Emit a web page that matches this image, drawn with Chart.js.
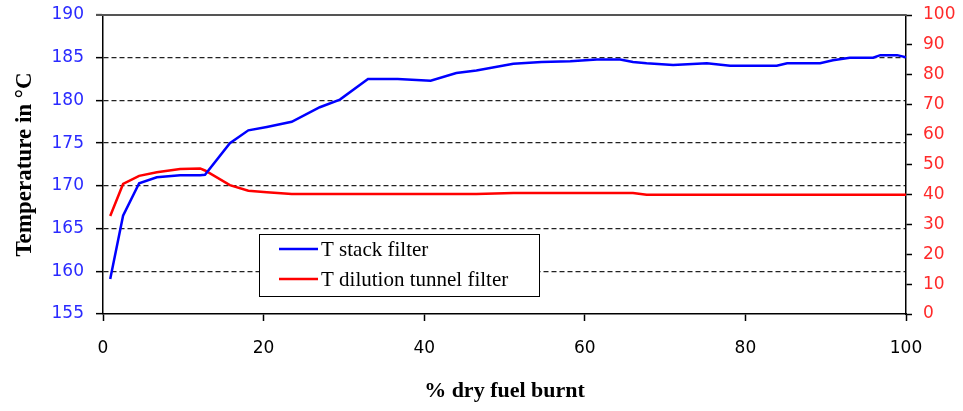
<!DOCTYPE html>
<html>
<head>
<meta charset="utf-8">
<script src="https://cdn.jsdelivr.net/npm/chart.js@4"></script>
<style>
html,body{margin:0;padding:0;background:#fff;}
#wrap{width:963px;height:411px;position:relative;}
</style>
</head>
<body>
<div id="wrap"><canvas id="c"></canvas></div>
<script>
// % dry fuel burnt (x positions of samples)
const fuelBurnt = [0.9, 2.5, 4.5, 6.7, 9.6, 12.1, 12.7, 15.8, 18.1, 20.4, 23.5, 27.0, 29.5, 33.0, 36.7, 40.8, 44.0, 46.5, 51.1, 54.6, 58.2, 61.5, 64.4, 66.0, 67.7, 71.0, 75.2, 78.1, 83.9, 85.2, 89.3, 90.9, 93.0, 95.9, 96.8, 98.9, 100];
// T stack filter (left axis, °C)
const stackFilter = [159.1, 166.5, 170.3, 171.0, 171.25, 171.25, 171.3, 175.0, 176.5, 176.9, 177.5, 179.2, 180.1, 182.5, 182.5, 182.3, 183.2, 183.5, 184.3, 184.5, 184.6, 184.8, 184.8, 184.5, 184.35, 184.15, 184.35, 184.05, 184.05, 184.35, 184.35, 184.7, 185.0, 185.0, 185.3, 185.3, 185.05];
// T dilution tunnel filter (right axis)
const tunnelFilter = [32.8, 43.5, 46.2, 47.4, 48.5, 48.7, 48.0, 43.1, 41.2, 40.7, 40.1, 40.1, 40.1, 40.1, 40.1, 40.1, 40.1, 40.1, 40.5, 40.5, 40.5, 40.5, 40.5, 40.5, 39.9, 39.9, 39.9, 39.9, 39.9, 39.9, 39.9, 39.9, 39.9, 39.9, 39.9, 39.9, 39.9];
const seriesLabels = ["T stack filter", "T dilution tunnel filter"];
const seriesColors = ["#0000ff", "#ff0000"];
const xTitle = "% dry fuel burnt";
const yTitle = "Temperature in °C";

const tickFont = {family: "DejaVu Sans", size: 17};
const titleFont = {family: "Liberation Serif", size: 22, weight: "bold"};
const yTitleFont = {family: "Liberation Serif", size: 23, weight: "bold"};

const legendPlugin = {
  id: "boxLegend",
  afterDraw(chart) {
    const ctx = chart.ctx;
    const bx = 259.5, by = 234.5, bw = 280, bh = 62;
    ctx.save();
    ctx.fillStyle = "#fff";
    ctx.fillRect(bx, by, bw, bh);
    ctx.strokeStyle = "#000";
    ctx.lineWidth = 1;
    ctx.strokeRect(bx, by, bw, bh);
    ctx.font = "21px 'Liberation Serif'";
    ctx.textBaseline = "middle";
    ctx.textAlign = "left";
    chart.data.datasets.forEach((ds, i) => {
      const yy = 249 + i * 30;
      ctx.strokeStyle = ds.borderColor;
      ctx.lineWidth = 2.5;
      ctx.beginPath();
      ctx.moveTo(279, yy);
      ctx.lineTo(318, yy);
      ctx.stroke();
      ctx.fillStyle = "#000";
      ctx.fillText(ds.label, 321, yy + 1);
    });
    ctx.restore();
  }
};

const topBorder = {
  id: "topBorder",
  beforeDatasetsDraw(chart) {
    const {ctx, chartArea} = chart;
    ctx.save();
    ctx.strokeStyle = "#555";
    ctx.lineWidth = 2;
    ctx.beginPath();
    ctx.moveTo(chartArea.left - 7, chartArea.top);
    ctx.lineTo(chartArea.right, chartArea.top);
    ctx.stroke();
    ctx.restore();
  }
};

new Chart(document.getElementById("c"), {
  type: "line",
  data: {
    datasets: [
      {
        label: seriesLabels[0],
        data: fuelBurnt.map((x, i) => ({x: x, y: stackFilter[i]})),
        borderColor: seriesColors[0],
        borderWidth: 2.5,
        pointRadius: 0,
        tension: 0,
        yAxisID: "y"
      },
      {
        label: seriesLabels[1],
        data: fuelBurnt.map((x, i) => ({x: x, y: tunnelFilter[i]})),
        borderColor: seriesColors[1],
        borderWidth: 2.5,
        pointRadius: 0,
        tension: 0,
        yAxisID: "y1"
      }
    ]
  },
  options: {
    responsive: true,
    maintainAspectRatio: false,
    animation: false,
    layout: {padding: {top: 15, left: 0, right: 0, bottom: 0}},
    plugins: {legend: {display: false}, tooltip: {enabled: false}},
    scales: {
      x: {
        type: "linear",
        min: 0, max: 100,
        ticks: {stepSize: 20, color: "#000", font: tickFont, padding: 17},
        grid: {drawOnChartArea: false, drawTicks: true, tickLength: 7, tickColor: "#000", tickWidth: 1.5},
        border: {color: "#000", width: 1.5},
        title: {display: true, text: xTitle, color: "#000", font: titleFont, padding: {top: 0, bottom: 6}},
        afterFit(s) { s.height = 97; s.paddingLeft = 0; s.paddingRight = 0; }
      },
      y: {
        position: "left",
        min: 155, max: 190,
        ticks: {stepSize: 5, color: "#2a2aff", font: tickFont, padding: 12},
        grid: {
          color: (c) => (c.tick && (c.tick.value === 155 || c.tick.value === 190)) ? "rgba(0,0,0,0)" : "#222",
          lineWidth: 1.3,
          tickLength: 7, tickColor: "#000", tickWidth: 1.5
        },
        border: {color: "#000", width: 1.5, dash: [5, 3]},
        title: {display: true, text: yTitle, color: "#000", font: yTitleFont, padding: {top: 11, bottom: 0}},
        afterFit(s) { s.width = 103; s.paddingTop = 0; s.paddingBottom = 0; }
      },
      y1: {
        position: "right",
        min: 0, max: 100,
        ticks: {stepSize: 10, color: "#ff2a2a", font: tickFont, padding: 11},
        grid: {drawOnChartArea: false, tickLength: 6, tickColor: "#000", tickWidth: 1.5},
        border: {color: "#000", width: 1.5},
        afterFit(s) { s.width = 57; s.paddingTop = 0; s.paddingBottom = 0; }
      }
    }
  },
  plugins: [topBorder, legendPlugin]
});
</script>
</body>
</html>
